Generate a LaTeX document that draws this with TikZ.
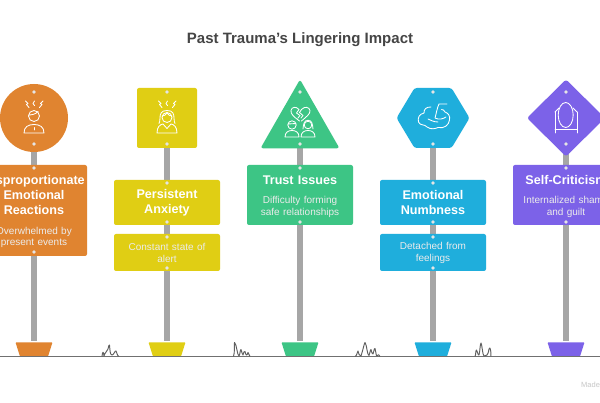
\documentclass[tikz,border=0pt]{standalone}
\usepackage{fontspec}
\setmainfont{Liberation Sans}
\definecolor{corange}{HTML}{E08430}
\definecolor{cyellow}{HTML}{E0CE14}
\definecolor{cgreen}{HTML}{3DC585}
\definecolor{cblue}{HTML}{1FAEDC}
\definecolor{cpurple}{HTML}{7C62E8}
\definecolor{cpost}{HTML}{A6A6A6}
\definecolor{cground}{HTML}{707070}
\definecolor{ctitle}{HTML}{454545}
\tikzset{
  signbox/.style={rectangle,rounded corners=2pt,inner sep=0pt,minimum width=106pt,draw=none},
  iconline/.style={draw=white,line width=0.85pt,line join=round,line cap=round},
  post/.style={draw=cpost,line width=6.4pt},
  rivet/.style={circle,fill=white!90!black,draw=none,minimum size=3.6pt,inner sep=0pt},
  head/.style={text=white,font=\fontsize{12.6}{15}\selectfont\bfseries,align=center,inner sep=0pt},
  sub/.style={text=white!92!black,font=\fontsize{10}{11.6}\selectfont,align=center,inner sep=0pt},
  basetrap/.style={draw=none,rounded corners=0.8pt},
  tuft/.style={draw=cground!85!black,line width=0.95pt,line join=round},
}
\newcommand{\bolts}[1]{%
  \begin{scope}[shift={(#1,104)}]
   \draw[iconline] (-8.5,-3) -- (-6,-0.5) -- (-7.5,0.5) -- (-5,3.5);
   \draw[iconline] (0.5,-3) -- (-1,-0.5) -- (0.5,1.5);
   \draw[iconline] (9,-3) -- (6.5,-0.5) -- (8,0.5) -- (5.5,3.5);
  \end{scope}}
\begin{document}
\begin{tikzpicture}[x=1pt,y=-1pt]
\useasboundingbox (0,0) rectangle (600,403);
\fill[white] (0,0) rectangle (600,403);
\node[font=\fontsize{15}{18}\selectfont\bfseries,text=ctitle,inner sep=0pt] (title) at (300,40) {Past Trauma's Lingering Impact};

% anchors at the post tops and bases
\coordinate (p1) at (34,148); \coordinate (b1) at (34,341.5);
\coordinate (p2) at (167,148); \coordinate (b2) at (167,341.5);
\coordinate (p3) at (300,148); \coordinate (b3) at (300,341.5);
\coordinate (p4) at (433,148); \coordinate (b4) at (433,341.5);
\coordinate (p5) at (566,148); \coordinate (b5) at (566,341.5);
\draw[post] (p1) -- (b1);
\draw[post] (p2) -- (b2);
\draw[post] (p3) -- (b3);
\draw[post] (p4) -- (b4);
\draw[post] (p5) -- (b5);

% bases
\fill[corange,basetrap] (15.5,342.3) -- (52.5,342.3) -- (48,356.5) -- (20,356.5) -- cycle;
\fill[cyellow,basetrap] (148.5,342.3) -- (185.5,342.3) -- (181,356.5) -- (153,356.5) -- cycle;
\fill[cgreen,basetrap] (281.5,342.3) -- (318.5,342.3) -- (314,356.5) -- (286,356.5) -- cycle;
\fill[cblue,basetrap] (414.5,342.3) -- (451.5,342.3) -- (447,356.5) -- (419,356.5) -- cycle;
\fill[cpurple,basetrap] (547.5,342.3) -- (584.5,342.3) -- (580,356.5) -- (552,356.5) -- cycle;

% ground
\coordinate (gl) at (0,356.8); \coordinate (gr) at (600,356.8);
\draw[draw=cground,line width=1.3pt] (gl) -- (gr);
% tufts
\draw[tuft] (102,356.5) .. controls (102.5,351) and (103.5,351) .. (104,356) .. controls (105,352) and (107,352) .. (108,349) .. controls (108.5,346) and (109,345) .. (109.5,345) .. controls (110,350) and (110,355) .. (112,355) .. controls (114,355) and (115,350) .. (116,351) .. controls (117,352) and (117,356) .. (119,356.5);
\draw[tuft] (233.5,356.5) .. controls (235,352) and (234,345) .. (234.5,342.5) .. controls (237,345) and (237,355) .. (239,356) .. controls (240,355) and (240,350) .. (241,349.5) .. controls (242,352) and (242,354) .. (243,355) .. controls (244,352) and (244,351) .. (245,351.5) .. controls (246,356) and (247,356) .. (248,352.5) .. controls (249,353) and (249,356) .. (250,356.5);
\draw[tuft] (355,356.5) .. controls (357,356) and (357,352) .. (358,351) .. controls (359,354) and (359,356) .. (361,356) .. controls (363,350) and (364,344) .. (365,342.5) .. controls (367,345) and (367,355) .. (369,355.5) .. controls (370,354) and (370,350) .. (371,349.5) .. controls (372,353) and (372,354) .. (373,354) .. controls (374,352) and (374,348) .. (375,348.5) .. controls (376,352) and (376,356) .. (377,356) .. controls (378,356) and (378,353) .. (380,356.5);
\draw[tuft] (475,356.5) .. controls (476,355) and (475.5,350) .. (476.5,350) .. controls (478,352) and (478,356) .. (479,355) .. controls (480,352) and (480,344) .. (481,343) .. controls (482,344) and (482.5,355) .. (484,356) .. controls (486,356) and (488,356) .. (489,349) .. controls (490,346) and (491,350) .. (491,356.5);

% top signs
\node[circle,fill=corange,minimum size=68pt,inner sep=0pt] (top1) at (34,118) {};
\node[rectangle,rounded corners=2pt,fill=cyellow,minimum width=60pt,minimum height=60pt,inner sep=0pt] (top2) at (167,118) {};
\fill[cgreen,rounded corners=2.5pt] (300,79.5) -- (339.5,148.3) -- (260.5,148.3) -- cycle;
\fill[cblue,rounded corners=2.5pt] (414.5,88) -- (451.5,88) -- (469.5,118) -- (451.5,148) -- (414.5,148) -- (396.5,118) -- cycle;
\fill[cpurple,rounded corners=2.5pt] (566,79.5) -- (605,118) -- (566,156.5) -- (527,118) -- cycle;

% lower signs
\node[signbox,fill=corange,minimum height=91pt] (s1) at (34,210.5) {};
\node[signbox,fill=cyellow,minimum height=45pt] (s2) at (167,202.5) {};
\node[signbox,fill=cyellow,minimum height=37pt] (t2) at (167,252.5) {};
\node[signbox,fill=cgreen,minimum height=60pt] (s3) at (300,195) {};
\node[signbox,fill=cblue,minimum height=45pt] (s4) at (433,202.5) {};
\node[signbox,fill=cblue,minimum height=37pt] (t4) at (433,252.5) {};
\node[signbox,fill=cpurple,minimum height=60pt] (s5) at (566,195) {};

% rivets
\foreach \n/\x/\y in {r1/34/92,r2/34/144,r3/34/168,r4/34/252,
  r5/167/92,r6/167/144,r7/167/183,r8/167/222,r9/167/237,r10/167/268,
  r11/300/92,r12/300/144,r13/300/168,r14/300/222,
  r15/433/92,r16/433/144,r17/433/183,r18/433/222,r19/433/237,r20/433/268,
  r21/566/92,r22/566/144,r23/566/168,r24/566/222}
  \node[rivet] (\n) at (\x,\y) {};

% texts
\node[head,text width=120pt] (h1) at (34,195) {\baselineskip=15pt Disproportionate\\Emotional\\Reactions};
\node[sub,text width=100pt] (d1) at (34,237.5) {Overwhelmed by\\present events};
\node[head,text width=100pt] (h2) at (167,202.5) {\baselineskip=15pt Persistent\\Anxiety};
\node[sub,text width=100pt] (d2) at (167,253) {Constant state of\\alert};
\node[head,text width=100pt] (h3) at (300,180) {Trust Issues};
\node[sub,text width=100pt] (d3) at (300,207) {Difficulty forming\\safe relationships};
\node[head,text width=100pt] (h4) at (433,202.5) {\baselineskip=15pt Emotional\\Numbness};
\node[sub,text width=100pt] (d4) at (433,253) {Detached from\\feelings};
\node[head,text width=100pt] (h5) at (566,180) {Self-Criticism};
\node[sub,text width=110pt] (d5) at (566,207) {Internalized shame\\and guilt};
\node[text=black!22,font=\fontsize{7.5}{9}\selectfont,anchor=west,inner sep=0pt] (made) at (581,385) {Made};

% icon 1: stressed person
\bolts{34}
\draw[iconline] (34,116) circle (5.5);
\draw[iconline] (28.7,115) .. controls (32,115) and (36,114) .. (38,111.5);
\draw[iconline] (24,133) .. controls (24,127) and (28,124.5) .. (34,124.5) .. controls (40,124.5) and (44,127) .. (44,133) -- cycle;
\draw[iconline] (34,127.5) -- (34,130);
% icon 2: stressed woman
\bolts{167}
\draw[iconline] (167,117.5) circle (5);
\draw[iconline] (162,116) .. controls (164,116) and (166,115) .. (167,113) .. controls (168,115) and (170,116) .. (172,116);
\draw[iconline] (167,110.5) .. controls (161,110.5) and (160,114) .. (160,118) .. controls (160,121) and (159.5,122) .. (159,123.5);
\draw[iconline] (167,110.5) .. controls (173,110.5) and (174,114) .. (174,118) .. controls (174,121) and (174.5,122) .. (175,123.5);
\draw[iconline] (157,133) .. controls (157,127) and (160,124.5) .. (163,124) -- (167,128.5) -- (171,124) .. controls (174,124.5) and (177,127) .. (177,133) -- cycle;
% icon 3: broken heart and two people
\draw[iconline] (299.5,121) .. controls (294,117) and (290.5,114) .. (291,110.5) .. controls (291.5,107) and (296,106) .. (299,109.5) -- (296.5,113) -- (300,115.5) -- (298,118);
\draw[iconline] (301.5,121) .. controls (306,117) and (310.5,114) .. (310,110.5) .. controls (309.5,107) and (304.5,106) .. (301.5,109.5) -- (299.5,112.5) -- (303,115.5) -- (301,118);
\draw[iconline] (292,125) circle (4.2);
\draw[iconline] (288,124) -- (296,123.5);
\draw[iconline] (285,137) .. controls (285,132.5) and (288,130.5) .. (292,130.5) .. controls (296,130.5) and (299,132.5) .. (299,137) -- cycle;
\draw[iconline] (308,125) circle (3.8);
\draw[iconline] (308,120.3) .. controls (304,120.3) and (303.5,124) .. (303,129);
\draw[iconline] (308,120.3) .. controls (312,120.3) and (312.5,124) .. (313,129);
\draw[iconline] (301,137) .. controls (301,132.5) and (304,130.5) .. (308,130.5) .. controls (312,130.5) and (315,132.5) .. (315,137) -- cycle;
% icon 4: brain
\draw[iconline] (431,107) .. controls (426,107) and (424,109) .. (424,113) .. controls (419,114) and (417.5,118) .. (418.5,122) .. controls (420,126) and (425,124) .. (427,127) .. controls (431,130) and (436,128.5) .. (438,127.5) .. controls (444,129) and (449,125) .. (449.5,120) .. controls (450.5,116) and (448,113) .. (445,112) .. controls (444,110) and (443,109.5) .. (441.5,109.5);
\draw[iconline] (447,104) -- (439,104) .. controls (437,108) and (436,115) .. (435,118) .. controls (439,120) and (443,119) .. (446,117);
\draw[iconline] (428,119) .. controls (431,120) and (433,122) .. (438,122);
% icon 5: mirror
\draw[iconline] (565.7,115) ellipse (7.5 and 12.5);
\draw[iconline] (555,112) -- (555,133);
\draw[iconline] (577,112) -- (577,133);
\draw[iconline] (555,129) -- (577,129);
\draw[iconline] (555,112) -- (559,108);
\draw[iconline] (577,112) -- (573,108);
\end{tikzpicture}
\end{document}
